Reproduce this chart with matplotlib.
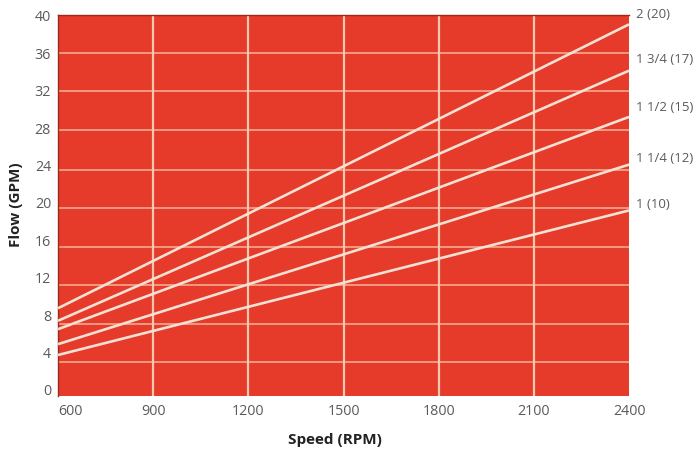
import matplotlib
matplotlib.use("Agg")
import matplotlib.pyplot as plt

# Data
speed = [600, 2400]
series_labels = ["2 (20)", "1 3/4 (17)", "1 1/2 (15)", "1 1/4 (12)", "1 (10)"]
flow_2 = [8.74, 39.1]
flow_1_3_4 = [7.4, 34.15]
flow_1_1_2 = [6.5, 29.2]
flow_1_1_4 = [4.9, 24.1]
flow_1 = [3.74, 19.2]
label_y = [40.1, 35.3, 30.2, 24.8, 19.8]
x_ticks = [600, 900, 1200, 1500, 1800, 2100, 2400]
y_ticks = [0, 4, 8, 12, 16, 20, 24, 28, 32, 36, 40]
hgrid = [2.99, 7.06, 11.2, 15.3, 19.5, 23.5, 27.8, 32.0, 36.04]
vgrid = [900, 1200, 1500, 1800, 2100]

plt.rcParams['font.family'] = ['Open Sans', 'DejaVu Sans']

fig = plt.figure(figsize=(6.97, 4.53), dpi=100)
ax = fig.add_axes([58/697, 57.4/453, 571/697, 380.6/453])
ax.set_facecolor('#E63A2A')
ax.set_xlim(600, 2400)
ax.set_ylim(-0.6, 40.1)

for g in hgrid:
    ax.axhline(g, color='#F19A82', lw=1.4, zorder=1)
for g in vgrid:
    ax.axvline(g, color='#F6C8AE', lw=1.6, zorder=1)

for ys in [flow_2, flow_1_3_4, flow_1_1_2, flow_1_1_4, flow_1]:
    ax.plot(speed, ys, color='#F3E1D3', lw=1.9, zorder=3, solid_capstyle='butt')

for lab, yy in zip(series_labels, label_y):
    ax.text(1.013, yy, lab, transform=ax.get_yaxis_transform(), ha='left', va='center',
            fontsize=9.5, color='#5a5a5a', clip_on=False)

ax.set_xticks(x_ticks)
ax.set_xticklabels([str(v) for v in x_ticks])
ax.set_yticks(y_ticks)
ax.set_yticklabels([str(v) for v in y_ticks])
ax.tick_params(axis='both', length=0, labelsize=10.3, colors='#5a5a5a')
ax.tick_params(axis='x', pad=6)
ax.tick_params(axis='y', pad=5)
ax.get_xticklabels()[0].set_horizontalalignment('left')

for s in ['right', 'bottom']:
    ax.spines[s].set_visible(False)
for s in ['top', 'left']:
    ax.spines[s].set_color('#9A2A1E')
    ax.spines[s].set_linewidth(1.0)

fig.text(335/697, 1 - 440/453, 'Speed (RPM)', ha='center', va='center',
         fontsize=11, fontweight='bold', color='#222222')
fig.text(16/697, 1 - 205/453, 'Flow (GPM)', ha='center', va='center', rotation=90,
         fontsize=11, fontweight='bold', color='#222222')

fig.savefig('out.png', dpi=100, facecolor='white')
